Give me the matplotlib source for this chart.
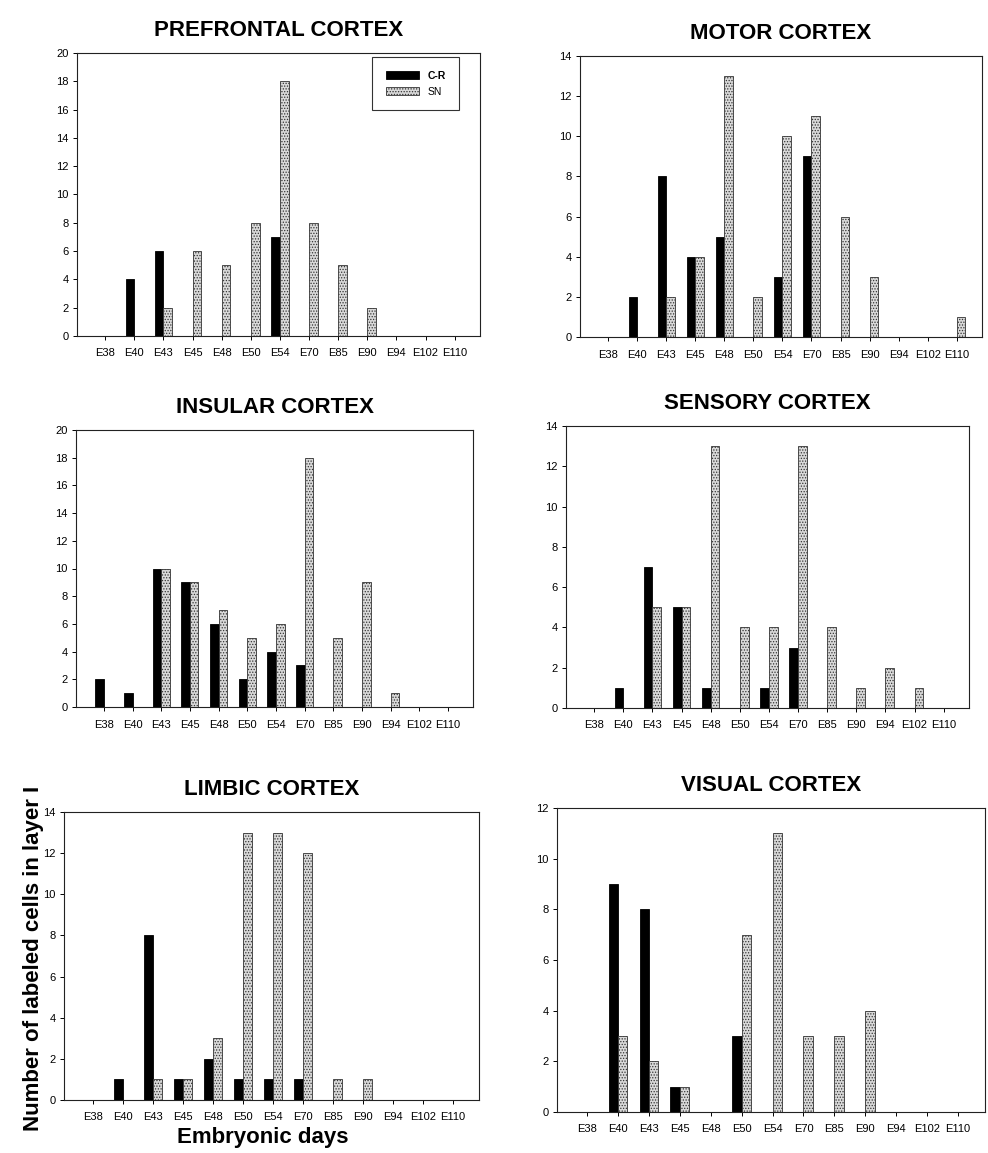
import matplotlib
matplotlib.use("Agg")
import matplotlib.pyplot as plt
import numpy as np

plt.rcParams['font.family'] = ['Liberation Sans', 'DejaVu Sans']
plt.rcParams['hatch.color'] = '#4a4a4a'
plt.rcParams['hatch.linewidth'] = 0.6

days = ['E38', 'E40', 'E43', 'E45', 'E48', 'E50', 'E54', 'E70', 'E85', 'E90', 'E94', 'E102', 'E110']

prefrontal_cr = [0, 4, 6, 0, 0, 0, 7, 0, 0, 0, 0, 0, 0]
prefrontal_sn = [0, 0, 2, 6, 5, 8, 18, 8, 5, 2, 0, 0, 0]
motor_cr = [0, 2, 8, 4, 5, 0, 3, 9, 0, 0, 0, 0, 0]
motor_sn = [0, 0, 2, 4, 13, 2, 10, 11, 6, 3, 0, 0, 1]
insular_cr = [2, 1, 10, 9, 6, 2, 4, 3, 0, 0, 0, 0, 0]
insular_sn = [0, 0, 10, 9, 7, 5, 6, 18, 5, 9, 1, 0, 0]
sensory_cr = [0, 1, 7, 5, 1, 0, 1, 3, 0, 0, 0, 0, 0]
sensory_sn = [0, 0, 5, 5, 13, 4, 4, 13, 4, 1, 2, 1, 0]
limbic_cr = [0, 1, 8, 1, 2, 1, 1, 1, 0, 0, 0, 0, 0]
limbic_sn = [0, 0, 1, 1, 3, 13, 13, 12, 1, 1, 0, 0, 0]
visual_cr = [0, 9, 8, 1, 0, 3, 0, 0, 0, 0, 0, 0, 0]
visual_sn = [0, 3, 2, 1, 0, 7, 11, 3, 3, 4, 0, 0, 0]

W, H = 988, 1153
fig = plt.figure(figsize=(W / 100, H / 100), dpi=100)

# (title, cr, sn, ymax, left, bottom, right, top) in pixels
panels = [
    ("PREFRONTAL CORTEX", prefrontal_cr, prefrontal_sn, 20, 77, 336, 480, 53),
    ("MOTOR CORTEX", motor_cr, motor_sn, 14, 580, 337, 982, 56),
    ("INSULAR CORTEX", insular_cr, insular_sn, 20, 76, 707, 473, 430),
    ("SENSORY CORTEX", sensory_cr, sensory_sn, 14, 566, 708, 969, 426),
    ("LIMBIC CORTEX", limbic_cr, limbic_sn, 14, 64, 1100, 479, 812),
    ("VISUAL CORTEX", visual_cr, visual_sn, 12, 557, 1112, 985, 808),
]

x = np.arange(len(days))
bw = 0.3
axes = []
for title, cr, sn, ymax, l, b, r, t in panels:
    ax = fig.add_axes([l / W, 1 - b / H, (r - l) / W, (b - t) / H])
    ax.bar(x - bw / 2, cr, bw, color='black', edgecolor='black', linewidth=0.6, label='C-R')
    ax.bar(x + bw / 2, sn, bw, color='#d9d9d9', edgecolor='#333333', linewidth=0.6,
           hatch='......', label='SN')
    ax.set_xlim(-0.97, 12.87)
    ax.set_ylim(0, ymax)
    ax.set_yticks(np.arange(0, ymax + 1, 2))
    ax.set_xticks(x, labels=days)
    ax.tick_params(axis='both', labelsize=8, length=3, width=0.7, direction='out', pad=6)
    ax.tick_params(axis='y', pad=3)
    for s in ax.spines.values():
        s.set_linewidth(0.8)
        s.set_color('#222222')
    ax.set_title(title, fontsize=16, fontweight='bold', pad=12)
    axes.append(ax)

leg = axes[0].legend(loc='upper right', bbox_to_anchor=(0.948, 0.986), fancybox=False,
                     edgecolor='black', fontsize=7.5, handlelength=3.2, handleheight=0.9,
                     borderpad=1.3, labelspacing=0.6, borderaxespad=0)
leg.get_frame().set_linewidth(0.8)
leg.get_texts()[0].set_fontweight('bold')

fig.text(33 / W, 1 - 958 / H, "Number of labeled cells in layer I", rotation=90,
         ha='center', va='center', fontsize=16, fontweight='bold')
fig.text(263 / W, 1 - 1138 / H, "Embryonic days", ha='center', va='center',
         fontsize=16, fontweight='bold')

fig.savefig('out.png', dpi=100)
